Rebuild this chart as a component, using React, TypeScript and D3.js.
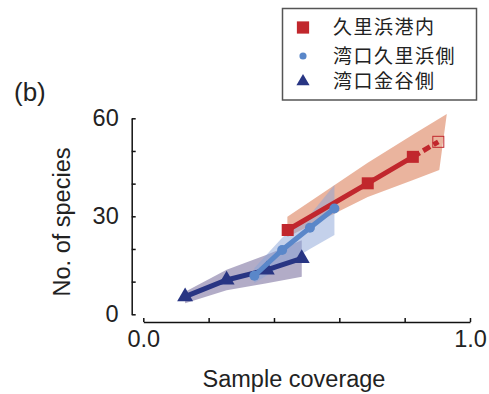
import { useRef, useEffect } from 'react';
import * as d3 from 'd3';

// observed (interpolated) points
const redX = [0.442, 0.687, 0.825];
const redY = [25.8, 40.1, 48.2];
// extrapolated end point
const redExtX = 0.903;
const redExtY = 52.8;
const redUpper: [number, number][] = [[0.441, 29.9], [0.687, 46.4], [0.832, 55.4], [0.929, 61.3]];
const redLower: [number, number][] = [[0.441, 23.7], [0.687, 35.9], [0.826, 41.1], [0.906, 44.2]];

const blueX = [0.340, 0.425, 0.510, 0.585];
const blueY = [11.8, 19.7, 26.5, 32.4];
const blueUpper: [number, number][] = [[0.340, 14.2], [0.425, 23.4], [0.510, 30.4], [0.585, 39.6]];
const blueLower: [number, number][] = [[0.340, 9.6], [0.425, 14.8], [0.510, 20.0], [0.585, 24.3]];

const navyX = [0.128, 0.255, 0.378, 0.485];
const navyY = [5.4, 10.5, 13.6, 17.1];
const navyUpper: [number, number][] = [[0.128, 6.9], [0.255, 13.6], [0.378, 18.2], [0.485, 22.7]];
const navyLower: [number, number][] = [[0.128, 3.4], [0.255, 7.4], [0.378, 9.5], [0.485, 11.5]];

const legendLabels = ['久里浜港内', '湾口久里浜側', '湾口金谷側'];
const yTicks = [0, 10, 20, 30, 40, 50, 60];
const yLabels = [0, 30, 60];
const xTicks = [0, 0.2, 0.4, 0.6, 0.8, 1.0];
const xLabels = [0, 1];

const W = 489;
const H = 394;
const FONT = '"Liberation Sans", Arial, sans-serif';
const CJK = '"Noto Sans CJK JP", "Noto Sans", sans-serif';

const RED = '#c1272d';
const BLUE = '#5a87c9';
const NAVY = '#283583';

export default function App() {
    const svgRef = useRef<SVGSVGElement | null>(null);

    useEffect(() => {
        if (!svgRef.current) return;
        const svg = d3.select(svgRef.current);
        svg.selectAll('*').remove();

        const x = d3.scaleLinear().domain([0, 1]).range([143.3, 470]);
        const y = d3.scaleLinear().domain([0, 60]).range([314.3, 118.3]);

        // bands
        const band = (up: [number, number][], lo: [number, number][]) =>
            d3.line<[number, number]>().x(d => x(d[0])).y(d => y(d[1]))([...up, ...lo.slice().reverse()]) + 'Z';

        svg.append('path').attr('d', band(redUpper, redLower)).attr('fill', '#d9764f').attr('opacity', 0.55);
        svg.append('path').attr('d', band(navyUpper, navyLower)).attr('fill', '#65598f').attr('opacity', 0.5);
        svg.append('path').attr('d', band(blueUpper, blueLower)).attr('fill', '#89a3d7').attr('opacity', 0.5);

        const line = d3.line<number>();
        const drawLine = (xs: number[], ys: number[], color: string) => {
            svg.append('path')
                .attr('d', line.x((_d, i) => x(xs[i])).y(d => y(d))(ys))
                .attr('fill', 'none')
                .attr('stroke', color)
                .attr('stroke-width', 5);
        };

        // red: extrapolated dashed part
        svg.append('line')
            .attr('x1', x(redX[redX.length - 1])).attr('y1', y(redY[redY.length - 1]))
            .attr('x2', x(redExtX)).attr('y2', y(redExtY))
            .attr('stroke', RED).attr('stroke-width', 5)
            .attr('stroke-dasharray', '8,4');
        svg.append('rect')
            .attr('x', x(redExtX) - 5.5).attr('y', y(redExtY) - 5.5)
            .attr('width', 11).attr('height', 11)
            .attr('fill', 'none').attr('stroke', RED).attr('stroke-width', 1);

        drawLine(redX, redY, RED);
        svg.selectAll('.sq').data(redY).join('path')
            .attr('d', d3.symbol(d3.symbolSquare, 144)())
            .attr('transform', (d, i) => `translate(${x(redX[i])},${y(d)})`)
            .attr('fill', RED);

        drawLine(navyX, navyY, NAVY);
        svg.selectAll('.tri').data(navyY).join('path')
            .attr('d', d3.symbol(d3.symbolTriangle, 110)())
            .attr('transform', (d, i) => `translate(${x(navyX[i])},${y(d)})`)
            .attr('fill', NAVY);

        drawLine(blueX, blueY, BLUE);
        svg.selectAll('.dot').data(blueY).join('circle')
            .attr('cx', (_d, i) => x(blueX[i]))
            .attr('cy', d => y(d))
            .attr('r', 5)
            .attr('fill', BLUE);

        // axes
        const yAxis = d3.axisLeft(y)
            .tickValues(yTicks)
            .tickSize(-4)
            .tickSizeOuter(0)
            .tickPadding(13)
            .tickFormat(d => (yLabels.includes(+d) ? String(d) : ''));
        const gy = svg.append('g').attr('transform', 'translate(131.7,0)').call(yAxis);

        const xAxis = d3.axisBottom(x)
            .tickValues(xTicks)
            .tickSize(-4)
            .tickSizeOuter(0)
            .tickPadding(8)
            .tickFormat(d => (xLabels.includes(+d) ? d3.format('.1f')(+d) : ''));
        const gx = svg.append('g').attr('transform', 'translate(0,322)').call(xAxis);

        [gx, gy].forEach(g => {
            g.selectAll('path, line').attr('stroke', '#111').attr('stroke-width', 1.5);
            g.selectAll('text').attr('font-family', FONT).attr('font-size', 23.5).attr('fill', '#222');
        });

        // titles
        svg.append('text')
            .attr('x', 294).attr('y', 387)
            .attr('text-anchor', 'middle')
            .attr('font-family', FONT).attr('font-size', 23.5).attr('fill', '#222')
            .text('Sample coverage');
        svg.append('text')
            .attr('transform', 'translate(70,222) rotate(-90)')
            .attr('text-anchor', 'middle')
            .attr('font-family', FONT).attr('font-size', 23.5).attr('fill', '#222')
            .text('No. of species');
        svg.append('text')
            .attr('x', 14).attr('y', 101)
            .attr('font-family', FONT).attr('font-size', 26).attr('fill', '#222')
            .text('(b)');

        // legend
        const lg = svg.append('g');
        lg.append('rect')
            .attr('x', 282.5).attr('y', 8.5).attr('width', 194).attr('height', 91.5)
            .attr('fill', 'white').attr('stroke', '#555').attr('stroke-width', 1.5);
        const rowY = [27.5, 56, 81.5];
        const marks = [
            d3.symbol(d3.symbolSquare, 150)(),
            d3.symbol(d3.symbolCircle, 40)(),
            d3.symbol(d3.symbolTriangle, 75)(),
        ];
        const cols = [RED, BLUE, NAVY];
        legendLabels.forEach((lab, i) => {
            lg.append('path')
                .attr('d', marks[i])
                .attr('transform', `translate(303,${rowY[i]})`)
                .attr('fill', cols[i]);
            lg.append('text')
                .attr('x', 333).attr('y', rowY[i])
                .attr('dy', '0.36em')
                .attr('font-family', CJK).attr('font-size', 19)
                .attr('letter-spacing', 1.5)
                .attr('fill', '#222')
                .text(lab);
        });
    }, []);

    return (
        <svg
            ref={svgRef}
            width={W}
            height={H}
            style={{ position: 'absolute', left: 0, top: 0, background: 'white' }}
        />
    );
}
